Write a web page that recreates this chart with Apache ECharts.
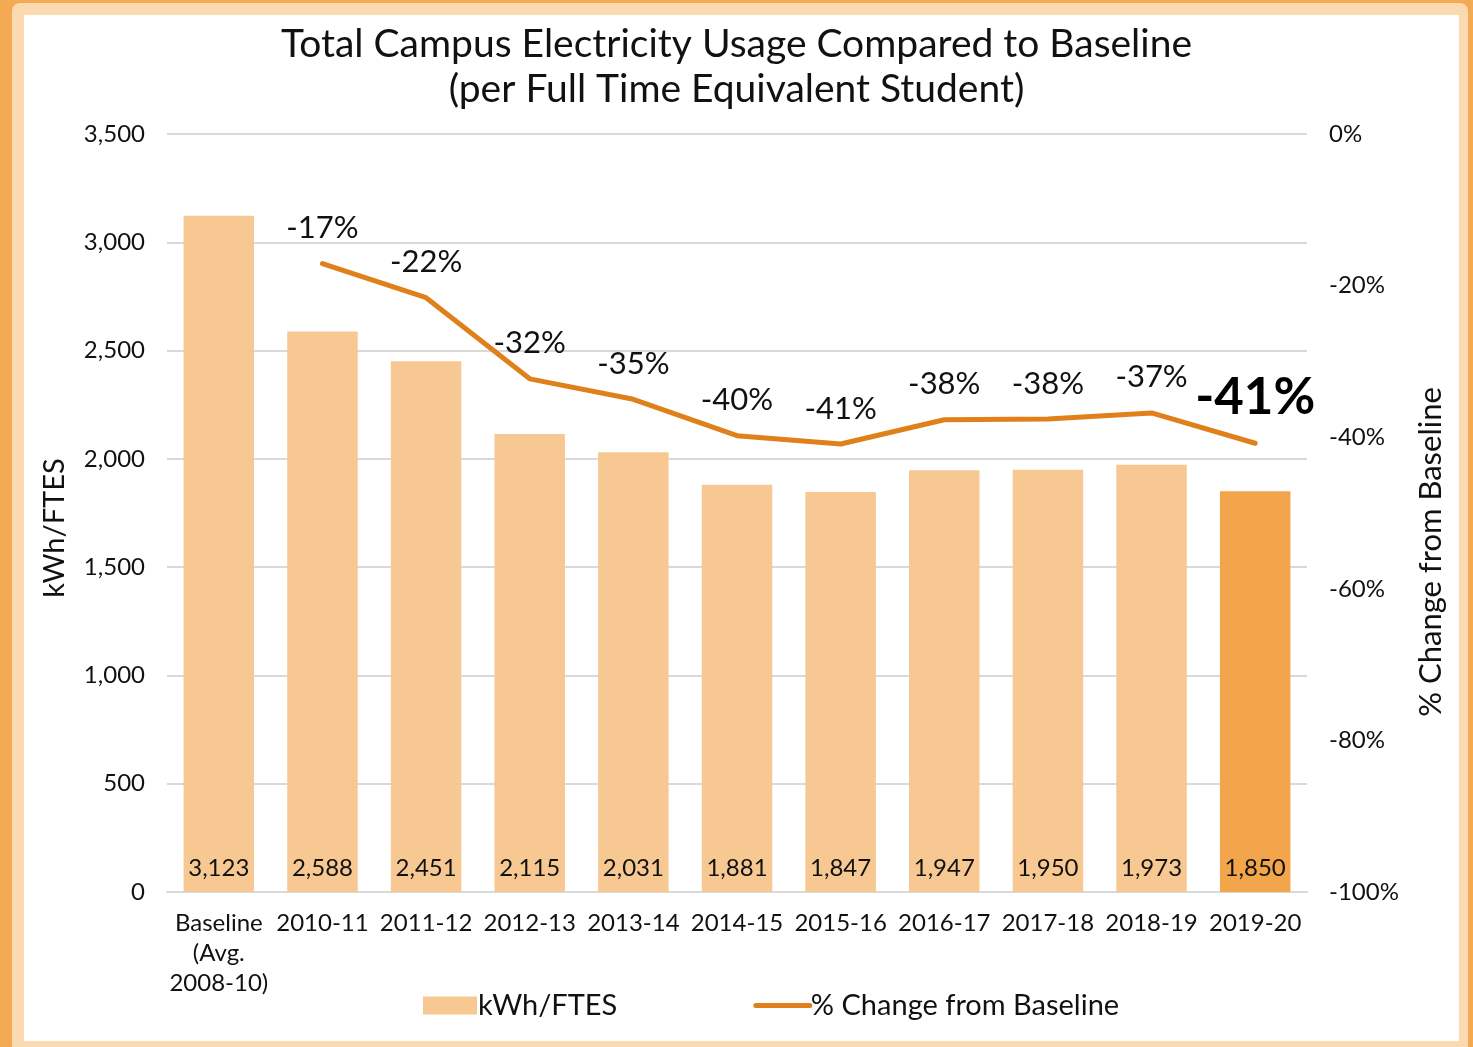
<!DOCTYPE html>
<html>
<head>
<meta charset="utf-8">
<script src="https://cdn.jsdelivr.net/npm/echarts@6/dist/echarts.min.js"></script>
<style>
  html, body { margin: 0; padding: 0; }
  body { width: 1473px; height: 1047px; background: #f4a954; position: relative; overflow: hidden; }
  .frame { position: absolute; left: 12px; top: 3px; width: 1456px; height: 1050px; background: #fbd9b1; border-radius: 8px; }
  .paper { position: absolute; left: 24px; top: 15px; width: 1435px; height: 1026px; background: #ffffff; }
  #chart { position: absolute; left: 0; top: 0; width: 1473px; height: 1047px; }
</style>
</head>
<body>
<div class="frame"></div>
<div class="paper"></div>
<div id="chart"></div>
<script>
// data
var years = ['Baseline\n(Avg.\n2008-10)', '2010-11', '2011-12', '2012-13', '2013-14', '2014-15',
             '2015-16', '2016-17', '2017-18', '2018-19', '2019-20'];
var usage = [3123, 2588, 2451, 2115, 2031, 1881, 1847, 1947, 1950, 1973, 1850];
var pctChange = [null, -17.1, -21.6, -32.3, -35.0, -39.8, -40.9, -37.7, -37.6, -36.8, -40.8];

var barColor = '#f7c892';
var lastBarColor = '#f2a54a';
var lineColor = '#e0801a';
var font = 'Lato, "Noto Sans", sans-serif';

var myChart = echarts.init(document.getElementById('chart'));

var barData = usage.map(function (v, i) {
  return {
    value: v,
    itemStyle: { color: i === usage.length - 1 ? lastBarColor : barColor }
  };
});

// labels for the line go on an invisible scatter so the line itself needs no symbols
var labelData = pctChange.map(function (v, i) {
  if (i === pctChange.length - 1) {
    return {
      value: v,
      label: { fontSize: 51, fontWeight: 'bold', distance: 20, color: '#000' }
    };
  }
  return v;
});

myChart.setOption({
  animation: false,
  textStyle: { fontFamily: font },
  title: {
    text: 'Total Campus Electricity Usage Compared to Baseline\n(per Full Time Equivalent Student)',
    left: 'center',
    top: 17,
    textStyle: { fontFamily: font, fontSize: 39, fontWeight: 'normal', color: '#111', lineHeight: 45 }
  },
  grid: { left: 167, right: 166, top: 134, bottom: 155 },
  legend: {
    left: 418,
    top: 986,
    itemWidth: 54,
    itemHeight: 18,
    itemGap: 136,
    textStyle: { fontFamily: font, fontSize: 29, color: '#111', padding: [0, 0, 0, -4] },
    data: [
      { name: 'kWh/FTES', icon: 'rect' },
      {
        name: '% Change from Baseline',
        itemStyle: { opacity: 0 },
        lineStyle: { width: 5, cap: 'round', color: lineColor }
      }
    ]
  },
  xAxis: {
    type: 'category',
    data: years,
    axisLine: { show: true, lineStyle: { color: '#d9d9d9', width: 2 } },
    axisTick: { show: false },
    axisLabel: {
      fontFamily: font, fontSize: 24, color: '#111', margin: 16, lineHeight: 30, interval: 0
    }
  },
  yAxis: [
    {
      type: 'value',
      min: 0,
      max: 3500,
      interval: 500,
      name: 'kWh/FTES',
      nameLocation: 'middle',
      nameGap: 98,
      nameTextStyle: { fontFamily: font, fontSize: 29, color: '#111', padding: [0, 30, 0, 0] },
      axisLine: { show: false },
      axisTick: { show: false },
      axisLabel: {
        fontFamily: font, fontSize: 24, color: '#111', margin: 22,
        formatter: function (v) { return v.toLocaleString('en-US'); }
      },
      splitLine: { lineStyle: { color: '#d9d9d9', width: 2 } }
    },
    {
      type: 'value',
      min: -100,
      max: 0,
      interval: 20,
      name: '% Change from Baseline',
      nameLocation: 'middle',
      nameGap: 108,
      nameTextStyle: { fontFamily: font, fontSize: 31, color: '#111', padding: [0, 78, 0, 0] },
      axisLine: { show: false },
      axisTick: { show: false },
      splitLine: { show: false },
      axisLabel: {
        fontFamily: font, fontSize: 24, color: '#111', margin: 22,
        formatter: '{value}%'
      }
    }
  ],
  series: [
    {
      name: 'kWh/FTES',
      type: 'bar',
      barWidth: '68%',
      itemStyle: { color: barColor },
      data: barData,
      label: {
        show: true,
        position: 'insideBottom',
        distance: 12,
        fontFamily: font,
        fontSize: 24,
        color: '#111',
        formatter: function (p) { return p.value.toLocaleString('en-US'); }
      }
    },
    {
      name: '% Change from Baseline',
      type: 'line',
      yAxisIndex: 1,
      symbol: 'none',
      lineStyle: { color: lineColor, width: 5, cap: 'round', join: 'round' },
      itemStyle: { color: lineColor },
      data: pctChange
    },
    {
      name: 'pctLabels',
      type: 'scatter',
      yAxisIndex: 1,
      symbolSize: 0,
      silent: true,
      itemStyle: { opacity: 1 },
      data: labelData,
      label: {
        show: true,
        position: 'top',
        distance: 20,
        fontFamily: font,
        fontSize: 31,
        color: '#111',
        opacity: 1,
        formatter: function (p) { return Math.round(p.value) + '%'; }
      }
    }
  ]
});

window.addEventListener('resize', function () {
  myChart.resize();
});
</script>
</body>
</html>
